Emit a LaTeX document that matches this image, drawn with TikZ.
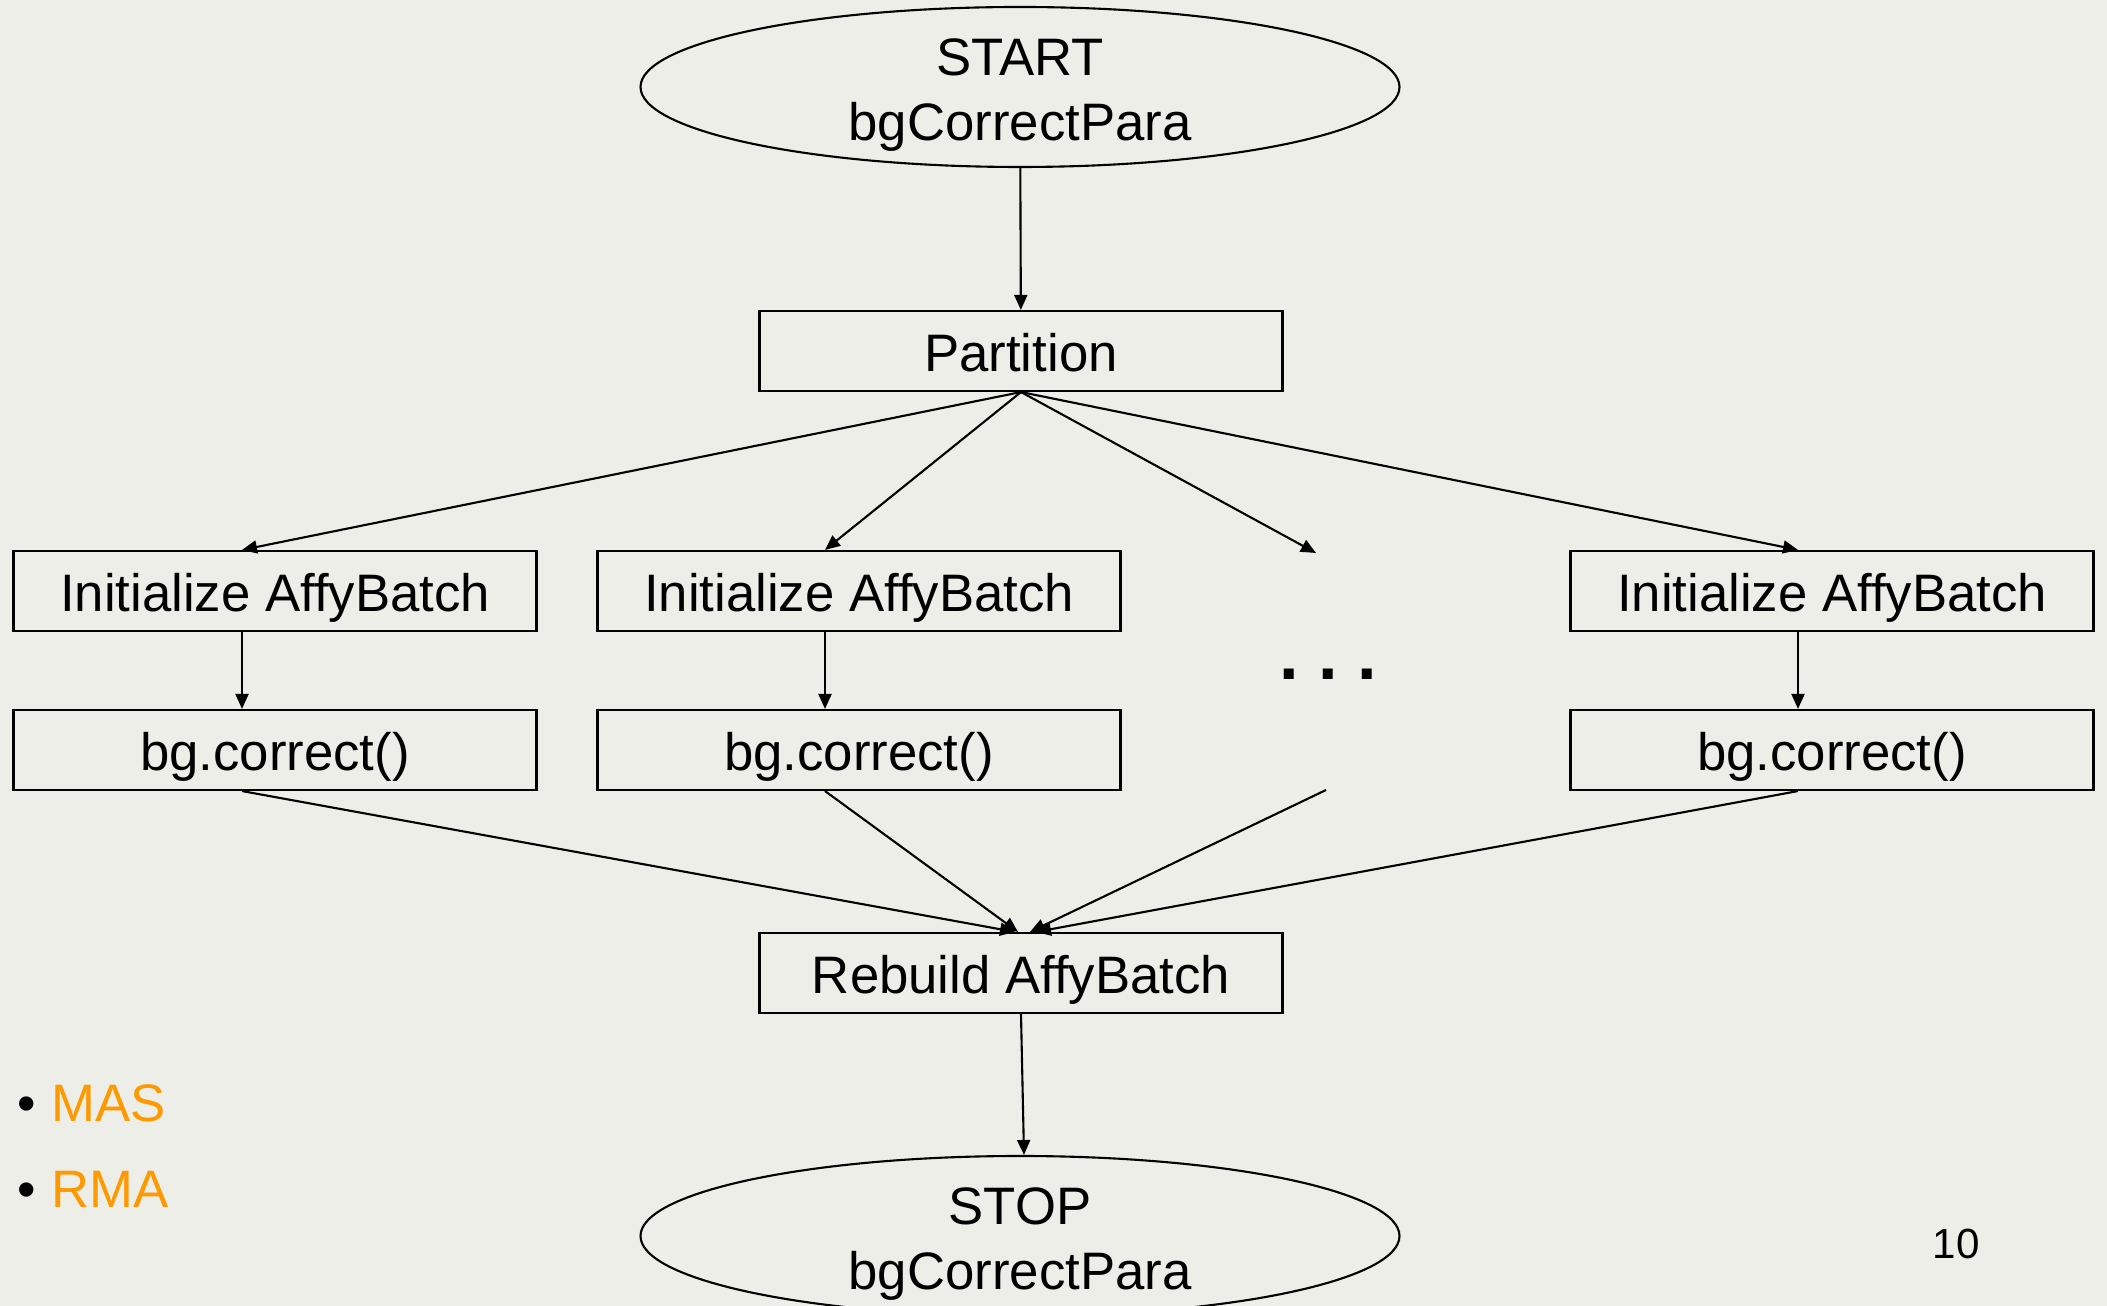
\documentclass[tikz,border=0pt]{standalone}
\usepackage{fontspec}
\setmainfont{Liberation Sans}
\usetikzlibrary{shapes.geometric, arrows.meta}
\definecolor{slidebg}{RGB}{238,238,233}
\definecolor{itemorange}{RGB}{255,153,0}

\begin{document}
\begin{tikzpicture}[
    terminal/.style={
        ellipse, draw, line width=0.6pt, minimum width=7.59cm, minimum height=1.60cm,
        inner sep=0pt
    },
    termtext/.style={
        align=center, inner sep=0pt, yshift=-0.08cm, font=\fontsize{15}{18.5}\selectfont
    },
    stepbox/.style={
        rectangle, draw, line width=0.6pt, minimum width=5.23cm, minimum height=0.80cm,
        inner sep=0pt, text height=0.5cm, text depth=0.08cm, font=\fontsize{15}{18}\selectfont
    },
    flow/.style={line width=0.6pt, -{Triangle[length=1.5mm, width=1.3mm]}},
    item/.style={anchor=base west, inner sep=0pt, font=\fontsize{15}{18}\selectfont},
]

\useasboundingbox (0,0) rectangle (21.07,-13.06);
\fill[slidebg] (0,0) rectangle (21.07,-13.06);

% START terminal (top)
\node[terminal, label={[termtext]center:START\\bgCorrectPara}] (start) at (10.20, -0.87) {};

% Partition step
\node[stepbox] (part) at (10.21, -3.51) {Partition};

% Initialize AffyBatch row
\node[stepbox] (init1) at (2.75, -5.91)  {Initialize AffyBatch};
\node[stepbox] (init2) at (8.59, -5.91)  {Initialize AffyBatch};
\node[stepbox] (init4) at (18.32, -5.91) {Initialize AffyBatch};

% bg.correct() row
\node[stepbox] (bgc1) at (2.75, -7.50)  {bg.correct()};
\node[stepbox] (bgc2) at (8.59, -7.50)  {bg.correct()};
\node[stepbox] (bgc4) at (18.32, -7.50) {bg.correct()};

% the elided column
\node[inner sep=0pt, font=\fontsize{20}{24}\selectfont\bfseries] (dots) at (13.28, -6.74) {.\ .\ .};
\coordinate (dotsin)  at (13.16, -5.53);
\coordinate (dotsout) at (13.26, -7.90);

% Rebuild AffyBatch step
\node[stepbox] (rebuild) at (10.21, -9.73) {Rebuild AffyBatch};

% STOP terminal (bottom, cut by the page)
\node[terminal, label={[termtext]center:STOP\\bgCorrectPara}] (stop) at (10.20, -12.36) {};

% bullet list (bottom-left)
\node[item] (bulmas) at (0.17, -11.21) {•};
\node[item, text=itemorange] (mas) at (0.51, -11.21) {MAS};
\node[item] (bulrma) at (0.17, -12.08) {•};
\node[item, text=itemorange] (rma) at (0.51, -12.08) {RMA};

% page number
\node[item, font=\fontsize{12}{14}\selectfont] (pageno) at (19.32, -12.58) {10};

% START -> Partition
\draw[flow] (start) -- (part);

% Partition -> each column
\draw[flow] (part.south) -- ([xshift=-3.3mm]init1.north);
\draw[flow] (part.south) -- ([xshift=-3.4mm]init2.north);
\draw[flow] (part.south) -- (dotsin);
\draw[flow] (part.south) -- ([xshift=-3.4mm]init4.north);

% Initialize -> bg.correct()
\draw[flow] ([xshift=-3.3mm]init1.south) -- ([xshift=-3.3mm]bgc1.north);
\draw[flow] ([xshift=-3.4mm]init2.south) -- ([xshift=-3.4mm]bgc2.north);
\draw[flow] ([xshift=-3.4mm]init4.south) -- ([xshift=-3.4mm]bgc4.north);

% each column -> Rebuild
\draw[flow] ([xshift=-3.3mm]bgc1.south) -- ([xshift=-0.6mm]rebuild.north);
\draw[flow] ([xshift=-3.4mm]bgc2.south) -- ([xshift=-0.3mm]rebuild.north);
\draw[flow] (dotsout) -- ([xshift=0.9mm]rebuild.north);
\draw[flow] ([xshift=-3.4mm]bgc4.south) -- ([xshift=1.5mm]rebuild.north);

% Rebuild -> STOP
\draw[flow] (rebuild.south) -- ([xshift=0.4mm]stop.north);

\end{tikzpicture}
\end{document}
